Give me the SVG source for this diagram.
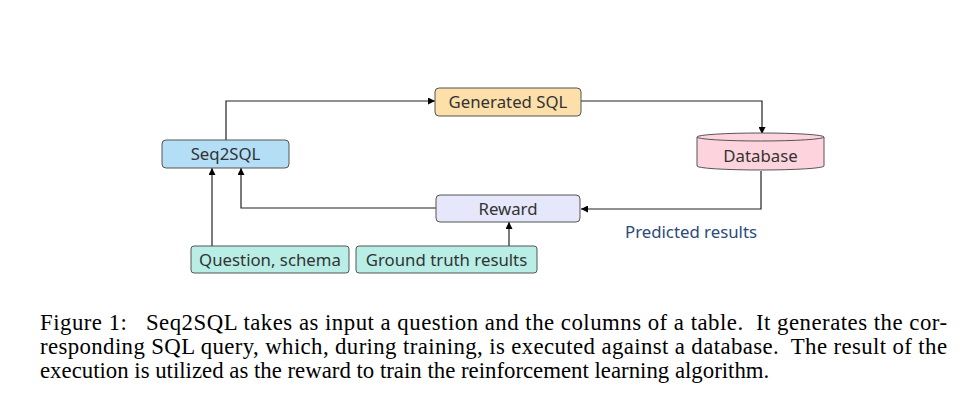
<svg xmlns="http://www.w3.org/2000/svg" width="972" height="413" viewBox="0 0 972 413">
<defs>
<marker id="arr" viewBox="0 0 10 10" refX="10" refY="5" markerWidth="7" markerHeight="7" markerUnits="userSpaceOnUse" orient="auto"><path d="M0,0 L10,5 L0,10 z" fill="#000"/></marker>
<style>
.box{stroke:#555;stroke-width:1}
.lbl{font-family:"Noto Sans","DejaVu Sans",sans-serif;font-size:16.8px;fill:#333;text-anchor:middle}
.con{fill:none;stroke:#222;stroke-width:1.2}
.cap{font-family:"Liberation Serif","Times New Roman",serif;font-size:22.8px;fill:#000}
</style>
</defs>
<rect width="972" height="413" fill="#fff"/>
<g id="connectors">
<path class="con" d="M226,140 V101 H435" marker-end="url(#arr)"/>
<path class="con" d="M581,101 H762 V134" marker-end="url(#arr)"/>
<path class="con" d="M761,171 V209 H581" marker-end="url(#arr)"/>
<path class="con" d="M436,208 H241 V168" marker-end="url(#arr)"/>
<path class="con" d="M212,246 V168" marker-end="url(#arr)"/>
<path class="con" d="M509,246 V222" marker-end="url(#arr)"/>
</g>
<g id="seq2sql"><rect class="box" x="162" y="140" width="127" height="28" rx="4" fill="#b3def5"/><text class="lbl" x="225.5" y="160">Seq2SQL</text></g>
<g id="generated-sql"><rect class="box" x="435" y="88" width="146" height="28" rx="4" fill="#fddfa9"/><text class="lbl" x="508" y="108">Generated SQL</text></g>
<g id="database"><path class="box" d="M697,137 V166 A63.5,4 0 0 0 824,166 V137" fill="#fdd4de"/><ellipse class="box" cx="760.5" cy="137" rx="63.5" ry="4" fill="#fdd4de"/><text class="lbl" x="760.5" y="162">Database</text></g>
<g id="reward"><rect class="box" x="436" y="195" width="144" height="27" rx="4" fill="#e6e7fb"/><text class="lbl" x="508" y="214.5">Reward</text></g>
<g id="question"><rect class="box" x="191" y="246" width="158" height="27" rx="3" fill="#b8eee6"/><text class="lbl" x="270" y="265.5">Question, schema</text></g>
<g id="ground-truth"><rect class="box" x="356" y="246" width="181" height="27" rx="3" fill="#b8eee6"/><text class="lbl" x="446.5" y="265.5">Ground truth results</text></g>
<text x="691" y="238" style="font-family:'Noto Sans','DejaVu Sans',sans-serif;font-size:16.8px;fill:#2b4a78;text-anchor:middle">Predicted results</text>
<text class="cap" x="40" y="330" textLength="907" lengthAdjust="spacing" xml:space="preserve">Figure 1:   Seq2SQL takes as input a question and the columns of a table.  It generates the cor-</text>
<text class="cap" x="40" y="354" textLength="907" lengthAdjust="spacing" xml:space="preserve">responding SQL query, which, during training, is executed against a database.  The result of the</text>
<text class="cap" x="40" y="378">execution is utilized as the reward to train the reinforcement learning algorithm.</text>
</svg>
